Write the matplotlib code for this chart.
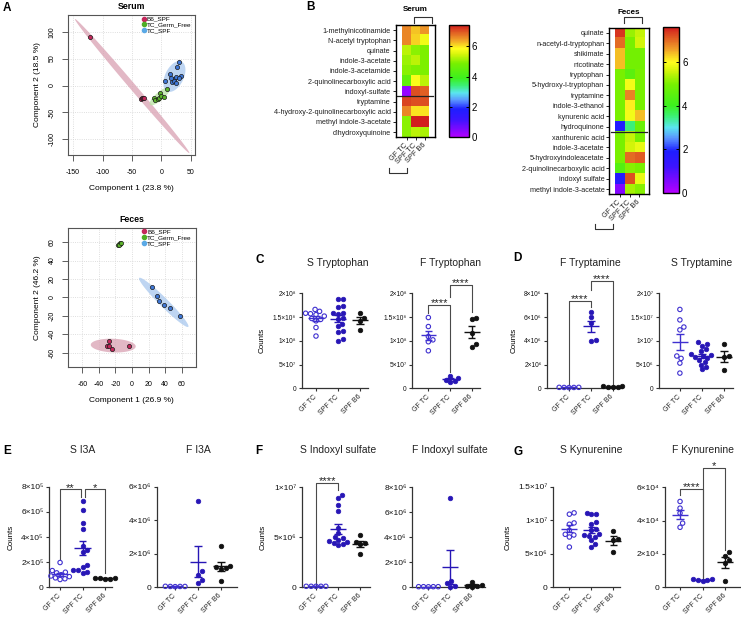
import numpy as np
import matplotlib
matplotlib.use("Agg")
import matplotlib.pyplot as plt
from matplotlib.colors import LinearSegmentedColormap
from matplotlib.lines import Line2D

plt.rcParams['font.family'] = ['Liberation Sans', 'DejaVu Sans']
plt.rcParams['axes.unicode_minus'] = False

W, H = 741, 617

# ---------------- data ----------------
groups = ["GF TC", "SPF TC", "SPF B6"]
pca_groups = ["B6_SPF", "TC_Germ_Free", "TC_SPF"]

# PCA scores (serum)
serum_b6_x = [-120.5, -35, -33, -31, -29]
serum_b6_y = [90, -25, -24, -23, -23]
serum_gf_x = [-12.5, -10.8, -6, -3.4, -2.3, 0, 3.4, 9]
serum_gf_y = [-24, -27, -25, -22.6, -14.7, -19, -21, -5.6]
serum_spf_x = [5.8, 14.3, 21, 24, 26.7, 30, 32.3, 29.5, 17.8, 21.7, 24.5, 15.7]
serum_spf_y = [8.7, 21.7, 11.8, 16.7, 35, 43.5, 17.5, 13.3, 5.9, 9, 5.3, 13.3]

# PCA scores (feces)
feces_b6_x = [-27.4, -30.5, -27.7, -24.5, -3.2]
feces_b6_y = [-47.5, -52.6, -53, -56, -52.6]
feces_gf_x = [-17, -15, -14, -16, -13]
feces_gf_y = [57, 59.5, 58, 56.5, 58.5]
feces_spf_x = [24.2, 29.9, 33, 39, 45.9, 58]
feces_spf_y = [10.9, 1.4, -4.1, -8.4, -11.7, -20.7]

# heatmaps (columns: GF TC, SPF TC, SPF B6)
serum_metabolites = ["1-methylnicotinamide", "N-acetyl tryptophan", "quinate",
                     "indole-3-acetate", "indole-3-acetamide", "2-quinolinecarboxylic acid",
                     "indoxyl-sulfate", "tryptamine", "4-hydroxy-2-quinolinecarboxylic acid",
                     "methyl indole-3-acetate", "dihydroxyquinoine"]
serum_heat = [[6.6, 6.2, 6.5], [6.6, 6.1, 5.7], [5.3, 5.0, 4.9], [5.1, 5.3, 4.9],
              [5.0, 4.9, 4.9], [4.5, 5.8, 5.3], [0.3, 7.0, 6.9], [7.1, 7.0, 7.0],
              [6.6, 6.0, 6.0], [5.0, 7.4, 7.4], [5.0, 5.3, 5.2]]

feces_metabolites = ["quinate", "n-acetyl-d-tryptophan", "shikimate", "nicotinate",
                     "tryptophan", "5-hydroxy-l-tryptophan", "tryptamine", "indole-3-ethanol",
                     "kynurenic acid", "hydroquinone", "xanthurenic acid", "indole-3-acetate",
                     "5-hydroxyindoleacetate", "2-quinolinecarboxylic acid", "indoxyl sulfate",
                     "methyl indole-3-acetate"]
feces_heat = [[7.4, 5.2, 5.5], [7.0, 5.0, 5.6], [6.4, 4.9, 4.9], [6.4, 4.9, 4.9],
              [5.0, 4.5, 5.0], [5.0, 5.9, 5.0], [5.0, 6.8, 5.0], [5.0, 6.1, 5.0],
              [5.0, 5.9, 6.4], [1.8, 3.5, 4.8], [5.0, 5.5, 5.0], [5.0, 5.6, 5.8],
              [5.0, 7.0, 7.1], [4.4, 5.1, 5.0], [1.7, 7.2, 5.8], [0.5, 5.3, 5.1]]

# dot plots (counts)
s_trp_gf = np.array([1.66, 1.62, 1.58, 1.57, 1.55, 1.52, 1.47, 1.45, 1.42, 1.28, 1.10]) * 1e8
s_trp_spf = np.array([1.88, 1.87, 1.73, 1.72, 1.59, 1.58, 1.57, 1.47, 1.45, 1.35, 1.31,
                      1.21, 1.19, 1.03, 1.0]) * 1e8
s_trp_b6 = np.array([1.58, 1.49, 1.42, 1.23]) * 1e8

f_trp_gf = np.array([1.49, 1.30, 1.09, 1.02, 0.98, 0.79]) * 1e8
f_trp_spf = np.array([0.25, 0.22, 0.18, 0.15, 0.13]) * 1e8
f_trp_b6 = np.array([1.49, 1.46, 1.17, 0.93, 0.88]) * 1e8

f_tra_gf = np.array([0.08, 0.07, 0.06, 0.07, 0.08]) * 1e6
f_tra_spf = np.array([6.45, 6.0, 5.5, 4.1, 4.0]) * 1e6
f_tra_b6 = np.array([0.2, 0.15, 0.12, 0.18, 0.1]) * 1e6

s_tra_gf = np.array([1.66, 1.44, 1.29, 1.23, 0.68, 0.63, 0.53, 0.32]) * 1e7
s_tra_spf = np.array([0.97, 0.93, 0.9, 0.82, 0.78, 0.72, 0.7, 0.68, 0.66, 0.64, 0.6,
                      0.55, 0.5, 0.45, 0.4]) * 1e7
s_tra_b6 = np.array([0.94, 0.68, 0.65, 0.38]) * 1e7

s_i3a_gf = np.array([1.97, 1.33, 1.2, 1.15, 1.0, 0.9, 0.85, 0.75, 0.68, 0.62]) * 1e5
s_i3a_spf = np.array([6.85, 6.15, 5.15, 4.6, 3.25, 3.0, 2.8, 1.75, 1.6, 1.4, 1.35,
                      1.25, 1.15]) * 1e5
s_i3a_b6 = np.array([0.75, 0.72, 0.7, 0.68, 0.65]) * 1e5

f_i3a_gf = np.array([0.05, 0.05, 0.04, 0.05, 0.06]) * 1e6
f_i3a_spf = np.array([5.17, 0.95, 0.75, 0.45, 0.25]) * 1e6
f_i3a_b6 = np.array([2.48, 1.25, 1.2, 1.15, 1.1, 0.35]) * 1e6

s_is_gf = np.array([0.01, 0.01, 0.01, 0.01, 0.01]) * 1e7
s_is_spf = np.array([9.25, 8.95, 8.2, 7.65, 5.95, 5.4, 5.05, 4.9, 4.7, 4.6, 4.5, 4.4,
                     4.3, 4.2]) * 1e6
s_is_b6 = np.array([5.25, 4.5, 4.4, 4.3, 3.35]) * 1e6

f_is_gf = np.array([0.05, 0.05, 0.04, 0.05, 0.05]) * 1e6
f_is_spf = np.array([7.17, 0.53, 0.32, 0.1, 0.05]) * 1e6
f_is_b6 = np.array([0.45, 0.15, 0.1, 0.08, 0.05]) * 1e6

s_kyn_gf = np.array([1.11, 1.09, 0.96, 0.94, 0.85, 0.79, 0.78, 0.75, 0.6]) * 1e7
s_kyn_spf = np.array([1.11, 1.1, 1.09, 0.97, 0.95, 0.87, 0.85, 0.8, 0.78, 0.76, 0.75,
                      0.7, 0.65, 0.6]) * 1e7
s_kyn_b6 = np.array([0.84, 0.72, 0.7, 0.52]) * 1e7

f_kyn_gf = np.array([5.15, 4.75, 4.45, 3.85, 3.6]) * 1e4
f_kyn_spf = np.array([0.5, 0.48, 0.45, 0.42, 0.38]) * 1e4
f_kyn_b6 = np.array([2.1, 1.9, 1.65, 1.45, 0.35]) * 1e4

# ---------------- styles ----------------
pca_point_colors = ['#c4285c', '#5db52c', '#3f78d8']
pca_legend_colors = ['#c4285c', '#4fae27', '#5aa9e6']
pca_ellipse_colors = ['#d9a0b2', '#b9e2a2', '#a8c8ee']
dot_colors = ['#3f30d0', '#2716b6', '#111111']
dot_filled = [False, True, True]

rainbow = LinearSegmentedColormap.from_list("gp_rainbow", [
    (0.0, '#b400ff'), (0.158, '#3c14ff'), (0.25, '#1e1eff'), (0.33, '#5a96ff'),
    (0.395, '#5ae6f0'), (0.46, '#3cf078'), (0.526, '#3cf01e'), (0.658, '#78f000'),
    (0.737, '#d2f50a'), (0.79, '#ffff1e'), (0.868, '#f0a028'), (1.0, '#d21e1e')])

SUP = str.maketrans('0123456789-', '⁰¹²³⁴⁵⁶⁷⁸⁹⁻')

fig = plt.figure(figsize=(W / 100, H / 100), dpi=100)


def px_rect(l, t, r, b):
    return [l / W, 1 - b / H, (r - l) / W, (b - t) / H]


def fig_text(x, y, s, **kw):
    fig.text(x / W, 1 - y / H, s, **kw)


def fig_line(xs, ys):
    fig.add_artist(Line2D(np.array(xs) / W, 1 - np.array(ys) / H, color='#333333', lw=0.8))


def sci_label(v):
    if v == 0:
        return '0'
    e = int(np.floor(np.log10(v) + 1e-9))
    return f"{v / 10 ** e:g}×10{str(e).translate(SUP)}"


def conf_ellipse(x, y, scale=2.4477, n=200):
    pts = np.column_stack([x, y])
    c = pts.mean(axis=0)
    vals, vecs = np.linalg.eigh(np.cov(pts, rowvar=False))
    t = np.linspace(0, 2 * np.pi, n)
    circ = np.column_stack([np.cos(t), np.sin(t)]) * np.sqrt(np.maximum(vals, 0)) * scale
    return c + circ @ vecs.T


def swarm(ypix, diam):
    """Beeswarm x-offsets (pixels) for values given in pixels."""
    xs = np.zeros(len(ypix))
    placed = []
    for i in np.argsort(ypix):
        y = ypix[i]
        cands = [0.0]
        for px, py in placed:
            dy = y - py
            if abs(dy) < diam:
                dx = np.sqrt(diam ** 2 - dy ** 2)
                cands += [px + dx, px - dx]
        cands.sort(key=abs)
        for c in cands:
            if all((c - px) ** 2 + (y - py) ** 2 >= diam ** 2 - 1e-6 for px, py in placed):
                xs[i] = c
                break
        placed.append((xs[i], y))
    return xs


def pca_panel(rect, xlim, ylim, xticks, yticks, data, title, xlabel, ylabel):
    l, t, r, b = rect
    ax = fig.add_axes(px_rect(l, t, r, b))
    for (gx, gy), ec in zip(data, pca_ellipse_colors):
        e = conf_ellipse(gx, gy)
        ax.fill(e[:, 0], e[:, 1], color=ec, alpha=0.75, lw=0, zorder=1)
    for (gx, gy), pc in zip(data, pca_point_colors):
        ax.scatter(gx, gy, s=9, c=pc, edgecolors='#1a1a1a', linewidths=0.5, zorder=3)
    ax.set_xlim(*xlim)
    ax.set_ylim(*ylim)
    ax.set_xticks(xticks)
    ax.set_yticks(yticks)
    ax.grid(color='#d4d4d4', ls=':', lw=0.6)
    ax.set_axisbelow(True)
    ax.tick_params(axis='x', labelsize=5, length=4, width=0.6, pad=6, color='#444444')
    ax.tick_params(axis='y', labelsize=5, length=4, width=0.6, pad=5, color='#444444',
                   labelrotation=90)
    for lab in ax.get_yticklabels():
        lab.set_va('center')
    for sp in ax.spines.values():
        sp.set_color('#555555')
        sp.set_linewidth(0.8)
    ax.set_xlabel(xlabel, fontsize=6)
    ax.set_ylabel(ylabel, fontsize=6)
    ax.xaxis.set_label_coords(0.5, -0.215)
    ax.yaxis.set_label_coords(-0.21, 0.5)
    ax.set_title(title, fontsize=6.3, fontweight='bold', pad=4)
    handles = [Line2D([], [], marker='o', ls='', ms=3, mfc=c, mec=c) for c in pca_legend_colors]
    ax.legend(handles, pca_groups, loc='upper left', bbox_to_anchor=(0.57, 1.0), frameon=False,
              fontsize=4.6, handlelength=0.6, handletextpad=0.2, labelspacing=0.05,
              borderpad=0.2, borderaxespad=0.0)
    return ax


def heat_panel(rect, cbar_rect, values, names, vmax, title, sep_y, sep_x):
    ax = fig.add_axes(px_rect(*rect))
    im = ax.imshow(np.array(values), cmap=rainbow, vmin=0, vmax=vmax, aspect='auto',
                   interpolation='nearest')
    ax.set_yticks(range(len(names)))
    ax.set_yticklabels(names, fontsize=5.2, color='#222222')
    ax.set_xticks(range(3))
    ax.set_xticklabels(groups, fontsize=5.3, rotation=45, ha='right', va='center',
                       rotation_mode='anchor', color='#222222')
    ax.tick_params(length=2, width=0.6, pad=1.5)
    ax.tick_params(axis='x', pad=3)
    for sp in ax.spines.values():
        sp.set_linewidth(1.0)
    ax.plot(sep_x, [sep_y, sep_y], color='#222222', lw=0.9, clip_on=False)
    ax.set_title(title, fontsize=5.8, fontweight='bold', pad=10)
    cax = fig.add_axes(px_rect(*cbar_rect))
    cb = fig.colorbar(im, cax=cax, ticks=[0, 2, 4, 6])
    cb.outline.set_linewidth(1.0)
    cax.tick_params(direction='in', length=2.5, width=0.7, labelsize=7, left=True,
                    right=True, pad=2)
    return ax


def dot_panel(rect, xlim, ymax, yticks, data, title, title_y, brackets=(), ylabel=False,
              tick_fs=4.8):
    l, t, r, b = rect
    ax = fig.add_axes(px_rect(l, t, r, b))
    ax.set_xlim(*xlim)
    ax.set_ylim(0, ymax)
    xpx = (r - l) / (xlim[1] - xlim[0])
    ypx = (b - t) / ymax
    for i, (vals, col, filled) in enumerate(zip(data, dot_colors, dot_filled)):
        vals = np.asarray(vals, float)
        off = swarm(vals * ypx, 4.9) / xpx
        ax.scatter(i + off, vals, s=11 if filled else 10, facecolors=col if filled else 'none',
                   edgecolors=col, linewidths=0.5 if filled else 0.8, clip_on=False, zorder=3)
        m = vals.mean()
        se = vals.std(ddof=1) / np.sqrt(len(vals))
        kw = dict(color=col, lw=1.0, clip_on=False, zorder=4, solid_capstyle='butt')
        ax.plot([i - 0.36, i + 0.36], [m, m], **kw)
        ax.plot([i, i], [max(m - se, 0), m + se], **kw)
        ax.plot([i - 0.17, i + 0.17], [m + se, m + se], **kw)
        if m - se > 0:
            ax.plot([i - 0.17, i + 0.17], [m - se, m - se], **kw)
    for x1, x2, y, yl, yr, stars in brackets:
        ax.plot([x1, x1, x2, x2], [yl, y, y, yr], color='#4a4a4a', lw=0.8, clip_on=False,
                zorder=2)
        ax.annotate(stars, xy=((x1 + x2) / 2, y), xytext=(0, -1), textcoords='offset points',
                    ha='center', va='baseline', fontsize=8, color='#222222',
                    annotation_clip=False)
    for side in ('top', 'right'):
        ax.spines[side].set_visible(False)
    for side in ('left', 'bottom'):
        ax.spines[side].set_linewidth(0.9)
        ax.spines[side].set_color('#333333')
    ax.set_xticks(range(3))
    ax.set_xticklabels(groups, fontsize=5, rotation=45, ha='right', va='center',
                       rotation_mode='anchor', color='#222222')
    ax.set_yticks(yticks)
    ax.set_yticklabels([sci_label(v) for v in yticks], fontsize=tick_fs, color='#111111')
    ax.tick_params(length=2.5, width=0.8, color='#333333')
    ax.tick_params(axis='x', pad=3)
    ax.tick_params(axis='y', pad=1.5)
    if ylabel:
        ax.set_ylabel("Counts", fontsize=5.8, labelpad=5)
    fig_text(l + (1 - xlim[0]) * xpx, title_y, title, fontsize=7.5, ha='center', va='center',
             color='#222222')
    return ax


# ---------------- A: PCA ----------------
pca_panel((68, 15, 195, 155), (-158.5, 56.8), (-129, 131), [-150, -100, -50, 0, 50],
          [-100, -50, 0, 50, 100],
          [(serum_b6_x, serum_b6_y), (serum_gf_x, serum_gf_y), (serum_spf_x, serum_spf_y)],
          "Serum", "Component 1 (23.8 %)", "Component 2 (18.5 %)")
pca_panel((68, 227.7, 195.7, 367.3), (-77.3, 76.9), (-75.9, 75.6), range(-60, 61, 20),
          range(-60, 61, 20),
          [(feces_b6_x, feces_b6_y), (feces_gf_x, feces_gf_y), (feces_spf_x, feces_spf_y)],
          "Feces", "Component 1 (26.9 %)", "Component 2 (46.2 %)")

# ---------------- B: heatmaps ----------------
heat_panel((395.7, 25, 435, 137.3), (449, 25, 469, 137.3), serum_heat, serum_metabolites,
           7.4, "Serum", 6.5, [-1.01, 2.96])
heat_panel((609.3, 27.7, 649, 194.3), (663.3, 27.3, 679.3, 192.7), feces_heat,
           feces_metabolites, 7.6, "Feces", 9.5, [-0.9, 2.8])
fig_line([414, 414, 431.7, 431.7], [23.3, 17.3, 17.3, 23.3])
fig_line([389.3, 389.3, 406.7, 406.7], [168.3, 173.3, 173.3, 168.3])
fig_line([624, 624, 642, 642], [23.3, 17.3, 17.3, 23.3])
fig_line([595, 595, 612.7, 612.7], [224, 229.3, 229.3, 224])

# ---------------- C - G: dot plots ----------------
trp_ticks = [0, 5e7, 1e8, 1.5e8, 2e8]
dot_panel((301.7, 293.3, 368.3, 388.3), (-0.65, 2.38), 2e8, trp_ticks,
          [s_trp_gf, s_trp_spf, s_trp_b6], "S Tryptophan", 263, ylabel=True)
dot_panel((412.3, 293.3, 480, 388.3), (-0.74, 2.38), 2e8, trp_ticks,
          [f_trp_gf, f_trp_spf, f_trp_b6], "F Tryptophan", 263,
          brackets=[(0, 1, 1.75e8, 1.58e8, 0.35e8, '****'),
                    (1, 2, 2.18e8, 1.93e8, 1.61e8, '****')])
dot_panel((547.3, 293.3, 621.7, 388.3), (-0.99, 2.41), 8e6, [0, 2e6, 4e6, 6e6, 8e6],
          [f_tra_gf, f_tra_spf, f_tra_b6], "F Tryptamine", 263, ylabel=True,
          brackets=[(0, 1, 7.38e6, 0.28e6, 6.88e6, '****'),
                    (1, 2, 9.07e6, 8.28e6, 0.28e6, '****')])
dot_panel((659, 293.3, 733.3, 388.3), (-0.95, 2.43), 2e7, [0, 5e6, 1e7, 1.5e7, 2e7],
          [s_tra_gf, s_tra_spf, s_tra_b6], "S Tryptamine", 263)

dot_panel((49.3, 486.7, 111.7, 587.3), (-0.48, 2.3), 8e5, [0, 2e5, 4e5, 6e5, 8e5],
          [s_i3a_gf, s_i3a_spf, s_i3a_b6], "S I3A", 450, ylabel=True, tick_fs=6,
          brackets=[(0, 0.93, 7.79e5, 2.23e5, 7.2e5, '**'),
                    (1.12, 2, 7.79e5, 7.2e5, 1.11e5, '*')])
dot_panel((156.7, 486.7, 236.7, 587.3), (-0.81, 2.7), 6e6, [0, 2e6, 4e6, 6e6],
          [f_i3a_gf, f_i3a_spf, f_i3a_b6], "F I3A", 450, tick_fs=6)
dot_panel((301.7, 487.3, 370, 587.3), (-0.65, 2.45), 1e7, [0, 5e6, 1e7],
          [s_is_gf, s_is_spf, s_is_b6], "S Indoxyl sulfate", 450, ylabel=True, tick_fs=6,
          brackets=[(0, 1, 1.047e7, 0.023e7, 0.973e7, '****')])
dot_panel((412.3, 487.3, 485, 587.3), (-0.74, 2.6), 8e6, [0, 2e6, 4e6, 6e6, 8e6],
          [f_is_gf, f_is_spf, f_is_b6], "F Indoxyl sulfate", 450, tick_fs=6)
dot_panel((553.3, 486.7, 620, 587.3), (-0.73, 2.3), 1.5e7, [0, 5e6, 1e7, 1.5e7],
          [s_kyn_gf, s_kyn_spf, s_kyn_b6], "S Kynurenine", 450, ylabel=True, tick_fs=6)
dot_panel((665, 487.3, 740, 587.3), (-0.67, 2.67), 6e4, [0, 2e4, 4e4, 6e4],
          [f_kyn_gf, f_kyn_spf, f_kyn_b6], "F Kynurenine", 450, tick_fs=6,
          brackets=[(0, 1, 5.9e4, 5.54e4, 0.44e4, '****'),
                    (1, 2, 7.16e4, 0.44e4, 2.24e4, '*')])

# ---------------- panel letters ----------------
for letter, x, y in [("A", 3, 8), ("B", 306, 7), ("C", 256, 260), ("D", 513, 258),
                     ("E", 3, 451), ("F", 255, 451), ("G", 513, 452)]:
    fig_text(x, y, letter, fontsize=8.5, fontweight='bold', va='center', ha='left')

fig.savefig("out.png", dpi=100)
